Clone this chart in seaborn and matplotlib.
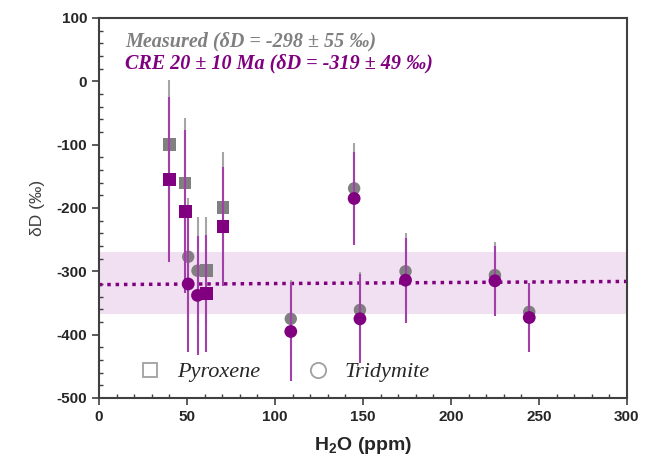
import matplotlib
matplotlib.use("Agg")
import matplotlib.pyplot as plt
import seaborn as sns
import pandas as pd
from matplotlib.ticker import MultipleLocator
from matplotlib.lines import Line2D

# valores
h2o = [40, 49, 61, 70.5, 50.7, 56, 109, 145, 148.3, 174.2, 225, 244.5]
mineral = ['Pyroxene'] * 4 + ['Tridymite'] * 8
dD_measured = [-100, -161, -299, -199, -277, -299, -375, -169, -361, -300, -306, -364]
err_measured = [102, 103, 85, 88, 93, 85, 62, 71, 60, 60, 53, 45]
dD_cre = [-155, -206, -335, -229, -320, -338, -395, -185, -375, -314, -315, -373]
err_cre = [130, 129, 92, 94, 107, 94, 78, 74, 70, 67, 55, 54]

cre_mean, cre_sd = -319, 49
fit_x = [0, 300]
fit_y = [-321, -316]

gray = '#808080'
purple = '#800080'

df = pd.DataFrame({'H2O': h2o, 'Mineral': mineral,
                   'measured': dD_measured, 'err_m': err_measured,
                   'cre': dD_cre, 'err_c': err_cre})

sns.set_style('white')
plt.rcParams['font.family'] = ['Liberation Sans', 'DejaVu Sans']
plt.rcParams['axes.unicode_minus'] = False
plt.rcParams['mathtext.fontset'] = 'custom'
plt.rcParams['mathtext.bf'] = 'Liberation Sans:bold'
plt.rcParams['mathtext.rm'] = 'Liberation Sans:bold'

fig = plt.figure(figsize=(6.51, 4.73), dpi=100)
ax = fig.add_axes([0.152, 0.1586, 0.811, 0.8034])

# faixa CRE e linha pontilhada
ax.axhspan(cre_mean - cre_sd, cre_mean + cre_sd, color='#f1e0f1', zorder=0, lw=0)
ax.plot(fit_x, fit_y, color=purple, lw=2.5, ls=(0, (1, 1.4)), zorder=1)

markers = {'Pyroxene': 's', 'Tridymite': 'o'}

# medidos
ax.errorbar(df['H2O'], df['measured'], yerr=df['err_m'], fmt='none',
            ecolor='#a6a6a6', elinewidth=1.5, zorder=2)
sns.scatterplot(data=df, x='H2O', y='measured', style='Mineral', markers=markers,
                color=gray, s=80, edgecolor='none', legend=False, ax=ax, zorder=3)

# corrigidos CRE
ax.errorbar(df['H2O'], df['cre'], yerr=df['err_c'], fmt='none',
            ecolor='#a040a8', elinewidth=1.5, zorder=4)
sns.scatterplot(data=df, x='H2O', y='cre', style='Mineral', markers=markers,
                color=purple, s=85, edgecolor='none', legend=False, ax=ax, zorder=5)

ax.set_xlim(0, 300)
ax.set_ylim(-500, 100)
ax.xaxis.set_major_locator(MultipleLocator(50))
ax.xaxis.set_minor_locator(MultipleLocator(10))
ax.yaxis.set_major_locator(MultipleLocator(100))
ax.yaxis.set_minor_locator(MultipleLocator(20))
ax.tick_params(which='major', direction='out', length=5, width=1.2, color='#404040',
               labelsize=11, bottom=True, left=True)
ax.tick_params(which='minor', direction='in', length=3, width=1, color='#404040',
               bottom=True, left=True)
for lab in ax.get_xticklabels() + ax.get_yticklabels():
    lab.set_fontweight('bold')

for sp in ax.spines.values():
    sp.set_color('#404040')
    sp.set_linewidth(1.5)

ax.set_xlabel(r'H$_\mathbf{2}$O (ppm)', fontsize=14, fontweight='bold', labelpad=8)
ax.set_ylabel('δD (‰)', fontsize=12.5, color='#404040', labelpad=8)

ax.text(0.049, 0.937, 'Measured (δD = -298 ± 55 ‰)', transform=ax.transAxes,
        color=gray, fontsize=14.5, fontweight='bold', fontstyle='italic',
        family=['Liberation Serif', 'DejaVu Serif'], va='center')
ax.text(0.049, 0.879, 'CRE 20 ± 10 Ma (δD = -319 ± 49 ‰)', transform=ax.transAxes,
        color=purple, fontsize=14.5, fontweight='bold', fontstyle='italic',
        family=['Liberation Serif', 'DejaVu Serif'], va='center')

handles = [Line2D([], [], ls='none', marker='s', ms=10, mfc='white', mec='#a0a0a0', mew=1.3),
           Line2D([], [], ls='none', marker='o', ms=11, mfc='white', mec='#a0a0a0', mew=1.3)]
ax.legend(handles, ['Pyroxene', 'Tridymite'], ncol=2, frameon=False,
          loc='center left', bbox_to_anchor=(0.038, 0.068), columnspacing=2.1,
          handlelength=1.0, handletextpad=0.7,
          prop={'family': 'Liberation Serif', 'style': 'italic', 'size': 16})

plt.savefig('out.png', dpi=100)
